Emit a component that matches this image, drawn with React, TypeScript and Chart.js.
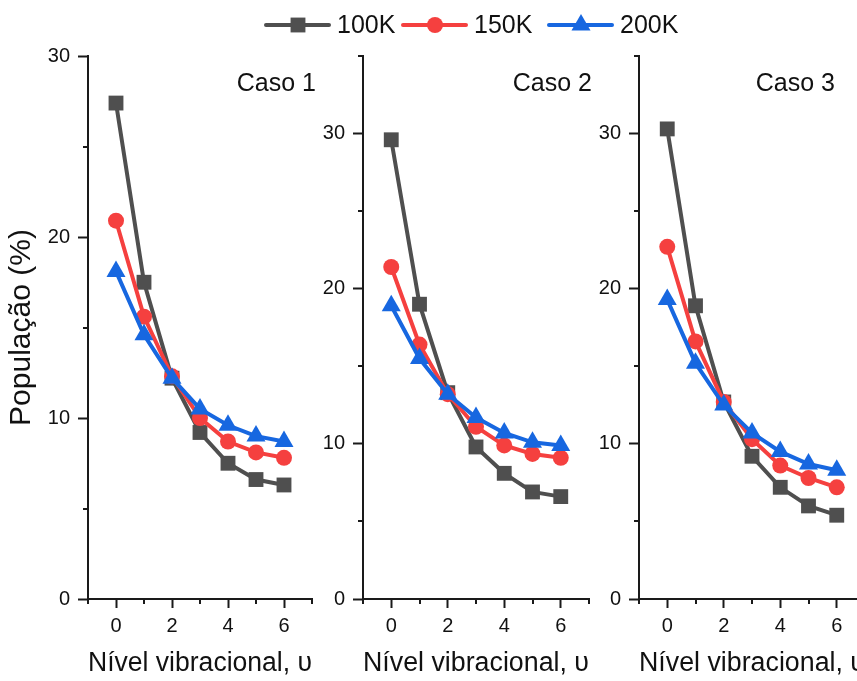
import React, { useEffect, useRef } from 'react';
import { Chart, registerables } from 'chart.js';

Chart.register(...registerables);

const levels = [0, 1, 2, 3, 4, 5, 6];
const seriesNames = ['100K', '150K', '200K'];

const caso1_100K = [27.4, 17.5, 12.2, 9.2, 7.5, 6.6, 6.3];
const caso1_150K = [20.9, 15.6, 12.3, 10.0, 8.7, 8.1, 7.8];
const caso1_200K = [18.1, 14.6, 12.2, 10.5, 9.6, 9.0, 8.7];

const caso2_100K = [29.6, 19.0, 13.3, 9.8, 8.1, 6.9, 6.6];
const caso2_150K = [21.4, 16.4, 13.2, 11.1, 9.9, 9.35, 9.1];
const caso2_200K = [18.9, 15.5, 13.2, 11.7, 10.7, 10.1, 9.9];

const caso3_100K = [30.3, 18.9, 12.7, 9.2, 7.2, 6.0, 5.4];
const caso3_150K = [22.7, 16.6, 12.7, 10.3, 8.6, 7.8, 7.2];
const caso3_200K = [19.3, 15.2, 12.5, 10.7, 9.5, 8.7, 8.3];

const caseLabels = ['Caso 1', 'Caso 2', 'Caso 3'];
const caseData = [
  [caso1_100K, caso1_150K, caso1_200K],
  [caso2_100K, caso2_150K, caso2_200K],
  [caso3_100K, caso3_150K, caso3_200K],
];
const yMaxByCase = [30, 35, 35];
const yMajorTicks = [0, 10, 20, 30];
const yMinorTicks = [5, 15, 25, 35];
const xMajorTicks = [0, 2, 4, 6];
const xMinorTicks = [-1, 1, 3, 5, 7];
const xMin = -1;
const xMax = 7;
const yTitle = 'População (%)';
const xTitle = 'Nível vibracional, υ';

const FONT = "'Liberation Sans', Arial, Helvetica, sans-serif";
const COLORS = ['#4f4f4f', '#f5403f', '#1767e0'];
const POINT_STYLES = ['rect', 'circle', 'triangle'];
const POINT_RADII = [10.5, 8, 11];
const AXIS_COLOR = '#1a1a1a';

const CANVAS_W = 900;
const CANVAS_H = 681;
// chart area [left, right] for each panel
const PANEL_X = [
  [88, 312],
  [363, 589],
  [639, 865],
];
const PANEL_TOP = 56;
const PANEL_BOTTOM = 599;
const Y_AXIS_W = [88, 40, 40];
const CASO_RIGHT = [316, 592, 835];
const CASO_Y = 84;
const LEGEND_STARTS = [266, 403, 549];
const LEGEND_Y = 25;

function drawMarker(ctx: CanvasRenderingContext2D, style: string, x: number, y: number, r: number, color: string) {
  ctx.save();
  ctx.fillStyle = color;
  ctx.beginPath();
  if (style === 'rect') {
    const s = Math.SQRT1_2 * r;
    ctx.rect(x - s, y - s, 2 * s, 2 * s);
  } else if (style === 'circle') {
    ctx.arc(x, y, r, 0, Math.PI * 2);
  } else {
    let rad = 0;
    ctx.moveTo(x + Math.sin(rad) * r, y - Math.cos(rad) * r);
    rad += (2 * Math.PI) / 3;
    ctx.lineTo(x + Math.sin(rad) * r, y - Math.cos(rad) * r);
    rad += (2 * Math.PI) / 3;
    ctx.lineTo(x + Math.sin(rad) * r, y - Math.cos(rad) * r);
    ctx.closePath();
  }
  ctx.fill();
  ctx.restore();
}

function makeConfig(idx: number): any {
  const [left, right] = PANEL_X[idx];
  const data = caseData[idx];
  const minorPlugin = {
    id: 'minorTicks' + idx,
    afterDraw(chart: any) {
      const ctx = chart.ctx as CanvasRenderingContext2D;
      const xs = chart.scales.x;
      const ys = chart.scales.y;
      const area = chart.chartArea;
      ctx.save();
      ctx.strokeStyle = AXIS_COLOR;
      ctx.lineWidth = 2;
      yMinorTicks.forEach((v) => {
        if (v > ys.max) return;
        const py = Math.round(ys.getPixelForValue(v));
        ctx.beginPath();
        ctx.moveTo(area.left - 5, py);
        ctx.lineTo(area.left, py);
        ctx.stroke();
      });
      xMinorTicks.forEach((v) => {
        const px = Math.round(xs.getPixelForValue(v));
        ctx.beginPath();
        ctx.moveTo(px, area.bottom);
        ctx.lineTo(px, area.bottom + 5);
        ctx.stroke();
      });
      // case label
      ctx.fillStyle = '#111';
      ctx.font = `25px ${FONT}`;
      ctx.textAlign = 'right';
      ctx.textBaseline = 'middle';
      ctx.fillText(caseLabels[idx], CASO_RIGHT[idx], CASO_Y);

      if (idx === 0) {
        // legend
        ctx.font = `25px ${FONT}`;
        ctx.textAlign = 'left';
        seriesNames.forEach((name, i) => {
          const x = LEGEND_STARTS[i];
          ctx.strokeStyle = COLORS[i];
          ctx.lineWidth = 4;
          ctx.lineCap = 'round';
          ctx.beginPath();
          ctx.moveTo(x, LEGEND_Y);
          ctx.lineTo(x + 63, LEGEND_Y);
          ctx.stroke();
          drawMarker(ctx, POINT_STYLES[i], x + 32, LEGEND_Y, POINT_RADII[i], COLORS[i]);
          ctx.fillStyle = '#111';
          ctx.fillText(name, x + 71, LEGEND_Y + 1);
        });
      }
      ctx.restore();
    },
  };

  return {
    type: 'line',
    data: {
      labels: levels,
      datasets: seriesNames.map((name, i) => ({
        label: name,
        data: levels.map((lv, j) => ({ x: lv, y: data[i][j] })),
        borderColor: COLORS[i],
        backgroundColor: COLORS[i],
        borderWidth: 4,
        pointStyle: POINT_STYLES[i],
        pointRadius: POINT_RADII[i],
        pointBorderWidth: 0,
        pointBackgroundColor: COLORS[i],
        tension: 0,
        order: 3 - i,
      })),
    },
    options: {
      animation: false,
      responsive: false,
      maintainAspectRatio: false,
      devicePixelRatio: 1,
      events: [],
      layout: {
        padding: {
          left: left - Y_AXIS_W[idx],
          right: CANVAS_W - right,
          top: PANEL_TOP,
          bottom: 0,
        },
      },
      plugins: {
        legend: { display: false },
        tooltip: { enabled: false },
        title: { display: false },
      },
      scales: {
        x: {
          type: 'linear',
          min: xMin,
          max: xMax,
          afterBuildTicks: (scale: any) => {
            scale.ticks = xMajorTicks.map((v) => ({ value: v }));
          },
          afterFit: (scale: any) => {
            scale.height = CANVAS_H - PANEL_BOTTOM;
          },
          grid: {
            drawOnChartArea: false,
            drawTicks: true,
            tickLength: 9,
            tickWidth: 2,
            tickColor: AXIS_COLOR,
          },
          border: { display: true, color: AXIS_COLOR, width: 2 },
          ticks: {
            color: '#111',
            font: { family: FONT, size: 20 },
            padding: 6,
            maxRotation: 0,
          },
          title: {
            display: true,
            text: xTitle,
            color: '#111',
            font: { family: FONT, size: 27 },
            padding: { top: 0, bottom: 1 },
          },
        },
        y: {
          type: 'linear',
          min: 0,
          max: yMaxByCase[idx],
          afterBuildTicks: (scale: any) => {
            scale.ticks = yMajorTicks.map((v) => ({ value: v }));
          },
          afterFit: (scale: any) => {
            scale.width = Y_AXIS_W[idx];
          },
          grid: {
            drawOnChartArea: false,
            drawTicks: true,
            tickLength: 10,
            tickWidth: 2,
            tickColor: AXIS_COLOR,
          },
          border: { display: true, color: AXIS_COLOR, width: 2 },
          ticks: {
            color: '#111',
            font: { family: FONT, size: 20 },
            padding: 8,
          },
          title: {
            display: idx === 0,
            text: yTitle,
            color: '#111',
            font: { family: FONT, size: 30 },
            padding: { top: 4, bottom: 0 },
          },
        },
      },
    },
    plugins: [minorPlugin],
  };
}

function Panel({ idx }: { idx: number }) {
  const ref = useRef<HTMLCanvasElement | null>(null);
  useEffect(() => {
    if (!ref.current) return;
    const chart = new Chart(ref.current, makeConfig(idx));
    return () => chart.destroy();
  }, [idx]);
  return (
    <canvas
      ref={ref}
      width={CANVAS_W}
      height={CANVAS_H}
      style={{ position: 'absolute', left: 0, top: 0, width: CANVAS_W, height: CANVAS_H }}
    />
  );
}

export default function App() {
  return (
    <div
      style={{
        position: 'fixed',
        left: 0,
        top: 0,
        width: 857,
        height: 681,
        overflow: 'hidden',
        background: '#ffffff',
      }}
    >
      <Panel idx={0} />
      <Panel idx={1} />
      <Panel idx={2} />
    </div>
  );
}
